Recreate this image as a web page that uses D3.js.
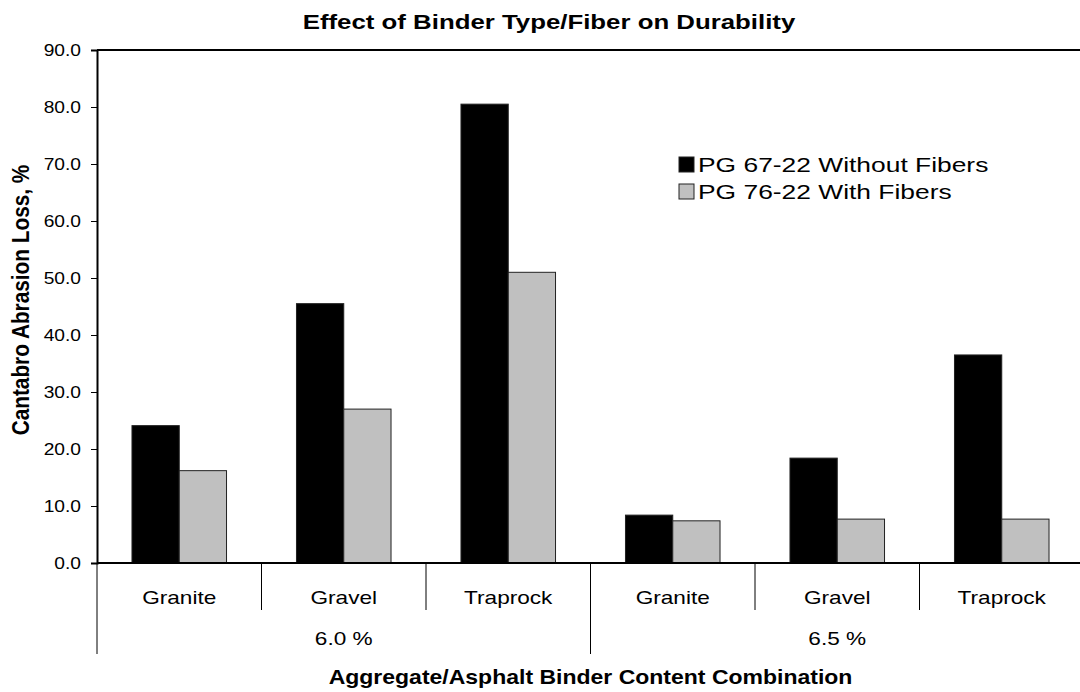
<!DOCTYPE html>
<html>
<head>
<meta charset="utf-8">
<script src="https://cdn.jsdelivr.net/npm/d3@7"></script>
<style>
  body { margin: 0; background: #fff; }
  svg { display: block; font-family: Arial, "Liberation Sans", sans-serif; }
</style>
</head>
<body>
<script>
// chart data
var groups = ["6.0 %", "6.5 %"];
var aggregates = ["Granite", "Gravel", "Traprock"];
var seriesNames = ["PG 67-22 Without Fibers", "PG 76-22 With Fibers"];
var withoutFibers = [24.1, 45.5, 80.5, 8.4, 18.4, 36.5];
var withFibers = [16.2, 27.0, 51.0, 7.4, 7.7, 7.7];
var yTicks = [0, 10, 20, 30, 40, 50, 60, 70, 80, 90];
var colors = ["#000000", "#c0c0c0"];

var width = 1080, height = 692;
var mLeft = 97, mTop = 50, plotW = 987, plotH = 513;

// categories = aggregate within binder content
var cats = [];
groups.forEach(function(g) {
  aggregates.forEach(function(a) { cats.push({group: g, agg: a, key: g + "|" + a}); });
});
cats.forEach(function(c, i) {
  c.values = [withoutFibers[i], withFibers[i]];
});

var svg = d3.select("body").append("svg")
    .attr("width", width)
    .attr("height", height);

// text that is a bit wider than plain Arial, like the picture
function addText(parent, x, y, str, size, sx, anchor, bold) {
  var t = parent.append("g")
      .attr("transform", "translate(" + x + "," + y + ") scale(" + sx + ",1)")
      .append("text")
      .attr("text-anchor", anchor || "middle")
      .style("font-size", size + "px")
      .style("fill", "#000")
      .text(str);
  if (bold) t.style("font-weight", "bold");
  return t;
}

var x = d3.scaleBand()
    .domain(cats.map(function(d) { return d.key; }))
    .range([mLeft, mLeft + plotW])
    .paddingInner(0)
    .paddingOuter(0);

var xInner = d3.scaleBand()
    .domain([0, 1])
    .range([0, x.bandwidth()])
    .paddingInner(0)
    .paddingOuter(0.74);

var y = d3.scaleLinear()
    .domain([0, 90])
    .range([mTop + plotH, mTop]);

// title
addText(svg, 549, 29, "Effect of Binder Type/Fiber on Durability", 20, 1.29, "middle", true);

// bars
svg.append("g").selectAll("g.cat")
    .data(cats)
    .enter().append("g")
    .attr("class", "cat")
    .attr("transform", function(d) { return "translate(" + x(d.key) + ",0)"; })
    .selectAll("rect")
    .data(function(d) { return d.values; })
    .enter().append("rect")
    .attr("x", function(d, i) { return xInner(i); })
    .attr("y", function(d) { return y(d); })
    .attr("width", xInner.bandwidth())
    .attr("height", function(d) { return y(0) - y(d); })
    .style("fill", function(d, i) { return colors[i]; })
    .style("stroke", "#222")
    .style("stroke-width", "1px");

// top border of plot
svg.append("line")
    .attr("x1", mLeft).attr("x2", mLeft + plotW)
    .attr("y1", mTop).attr("y2", mTop)
    .style("stroke", "#000").style("stroke-width", "2px");

// y axis
var yAxis = svg.append("g")
    .attr("transform", "translate(" + mLeft + ",0)")
    .call(d3.axisLeft(y).tickValues(yTicks).tickSize(6).tickFormat(""));
yAxis.select(".domain").style("stroke-width", "2px");
yAxis.selectAll(".tick line").style("stroke-width", "1px");
yTicks.forEach(function(v) {
  addText(svg, 81, y(v) + 6, d3.format(".1f")(v), 16, 1.2, "end", false);
});

// x baseline
svg.append("line")
    .attr("x1", mLeft).attr("x2", mLeft + plotW)
    .attr("y1", y(0)).attr("y2", y(0))
    .style("stroke", "#000").style("stroke-width", "2px");

// first level separators and labels
var base = y(0);
cats.forEach(function(c) {
  var xr = x(c.key) + x.bandwidth();
  svg.append("line")
      .attr("x1", xr).attr("x2", xr)
      .attr("y1", base).attr("y2", 610)
      .style("stroke", "#000").style("stroke-width", "1px");
  addText(svg, x(c.key) + x.bandwidth() / 2, 604, c.agg, 19, 1.19, "middle", false);
});

// second level separators and labels
groups.forEach(function(gname, gi) {
  var x0 = x(cats[gi * 3].key);
  var x1 = x(cats[gi * 3 + 2].key) + x.bandwidth();
  svg.append("line")
      .attr("x1", x0).attr("x2", x0)
      .attr("y1", base).attr("y2", 654)
      .style("stroke", "#000").style("stroke-width", "1px");
  addText(svg, (x0 + x1) / 2, 645, gname, 19, 1.19, "middle", false);
});

// axis titles
addText(svg, mLeft + plotW / 2, 684, "Aggregate/Asphalt Binder Content Combination", 20, 1.15, "middle", true);

svg.append("g")
    .attr("transform", "translate(29,300) scale(1.15,1) rotate(-90)")
    .append("text")
    .attr("text-anchor", "middle")
    .style("font-size", "20.8px")
    .style("font-weight", "bold")
    .text("Cantabro Abrasion Loss, %");

// legend
var legend = svg.append("g").attr("transform", "translate(679,157)");
seriesNames.forEach(function(name, i) {
  var row = legend.append("g").attr("transform", "translate(0," + (i * 27) + ")");
  row.append("rect")
      .attr("width", 15).attr("height", 15)
      .style("fill", colors[i])
      .style("stroke", "#222").style("stroke-width", "1px");
  addText(row, 19, 15, name, 20, 1.32, "start", false);
});
</script>
</body>
</html>
